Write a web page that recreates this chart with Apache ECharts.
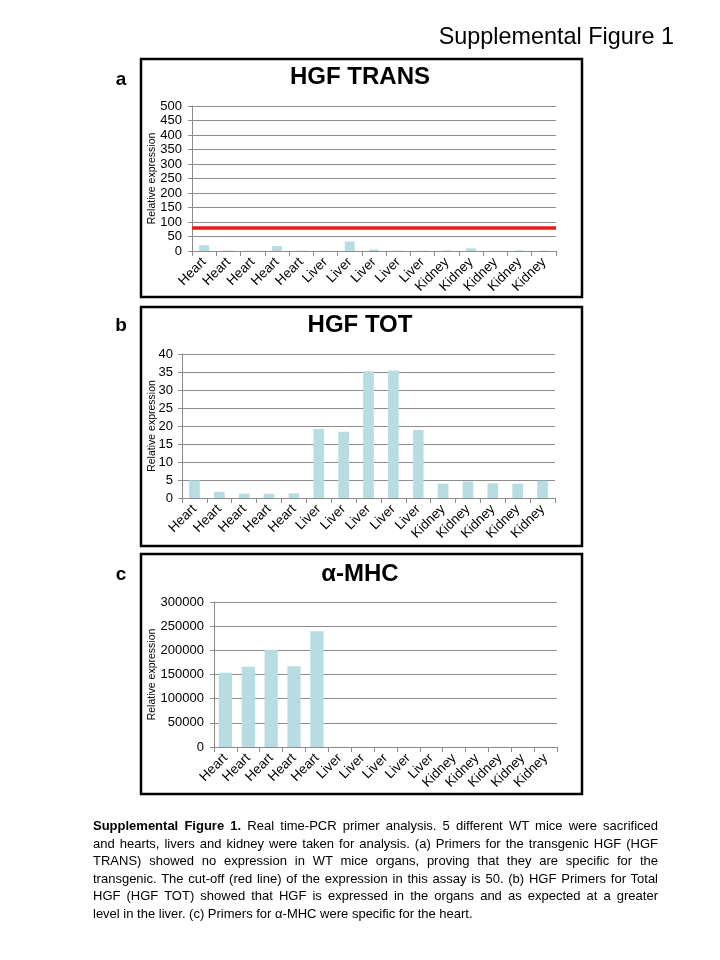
<!DOCTYPE html>
<html>
<head>
<meta charset="utf-8">
<script src="https://cdn.jsdelivr.net/npm/echarts@6/dist/echarts.min.js"></script>
<style>
  html, body { margin: 0; padding: 0; background: #fff; }
  #chart { position: absolute; left: 0; top: 0; width: 720px; height: 960px; }
  #caption { position: absolute; left: 93px; top: 817px; width: 565px;
    font-family: "Liberation Sans", Arial, sans-serif; font-size: 13px; line-height: 17.5px; color: #000; }
  #caption .ln { text-align: justify; text-align-last: justify; }
  #caption .ln.last { text-align: left; text-align-last: left; }
</style>
</head>
<body>
<div id="chart"></div>
<div id="caption">
  <div class="ln"><b>Supplemental Figure 1.</b> Real time-PCR primer analysis. 5 different WT mice were sacrificed</div>
  <div class="ln">and hearts, livers and kidney were taken for analysis. (a) Primers for the transgenic HGF (HGF</div>
  <div class="ln">TRANS) showed no expression in WT mice organs, proving that they are specific for the</div>
  <div class="ln">transgenic. The cut-off (red line) of the expression in this assay is 50. (b) HGF Primers for Total</div>
  <div class="ln">HGF (HGF TOT) showed that HGF is expressed in the organs and as expected at a greater</div>
  <div class="ln last">level in the liver. (c) Primers for α-MHC were specific for the heart.</div>
</div>
<script>
// ---- data ----
var categories = ['Heart','Heart','Heart','Heart','Heart','Liver','Liver','Liver','Liver','Liver','Kidney','Kidney','Kidney','Kidney','Kidney'];
var hgfTransValues = [20, 2, 1, 17, 1.5, 0.5, 33, 5, 1.5, 1, 2, 9, 0.5, 2.5, 1];
var hgfTransCutoff = 80;
var hgfTotValues = [4.9, 1.7, 1.2, 1.2, 1.3, 19.2, 18.4, 35.2, 35.4, 18.9, 4.0, 4.6, 4.1, 4.0, 4.8];
var aMhcValues = [153800, 166200, 201400, 166900, 239300, 0, 0, 0, 0, 0, 0, 0, 0, 0, 0];
var panelTitles = ['HGF TRANS', 'HGF TOT', 'α-MHC'];
var panelLetters = ['a', 'b', 'c'];
var yAxisName = 'Relative expression';
var figureTitle = 'Supplemental Figure 1';

// ---- styles ----
var FONT = 'Liberation Sans';
var GRAY = '#8c8c8c';
var BAR = '#b7dde2';

var chart = echarts.init(document.getElementById('chart'), null, {renderer: 'canvas'});

var grids = [
  {left: 192, right: 164, top: 106, bottom: 709},
  {left: 182, right: 165, top: 354, bottom: 462},
  {left: 214, right: 163, top: 602, bottom: 213}
];
var yCfg = [
  {max: 500, interval: 50, nameGap: 34, margin: 10},
  {max: 40, interval: 5, nameGap: 24, margin: 9},
  {max: 300000, interval: 50000, nameGap: 56, margin: 10}
];

function xAxis(i) {
  return {
    type: 'category', gridIndex: i, data: categories,
    axisLine: {lineStyle: {color: GRAY, width: 1}},
    axisTick: {show: true, length: 5, lineStyle: {color: GRAY}},
    axisLabel: {rotate: 45, interval: 0, fontSize: 13.5, color: '#000', fontFamily: FONT, margin: 9}
  };
}
function yAxis(i) {
  var c = yCfg[i];
  return {
    type: 'value', gridIndex: i, min: 0, max: c.max, interval: c.interval,
    name: yAxisName, nameLocation: 'middle', nameGap: c.nameGap, nameMoveOverlap: false,
    nameTextStyle: {fontSize: 10.5, color: '#000', fontFamily: FONT},
    axisLine: {show: true, lineStyle: {color: GRAY}},
    axisTick: {show: true, length: 4, lineStyle: {color: GRAY}},
    splitLine: {show: true, lineStyle: {color: GRAY, width: 1}},
    axisLabel: {fontSize: 13, color: '#000', fontFamily: FONT, margin: c.margin,
      formatter: function (v) { return String(v); }}
  };
}

var frames = [
  {x: 141, y: 59, w: 441, h: 238},
  {x: 141, y: 307, w: 441, h: 239},
  {x: 141, y: 554, w: 441, h: 240}
];
var letterY = [80, 326, 575];
var titleY = [77, 325, 574];

var graphics = [];
frames.forEach(function (f, i) {
  graphics.push({type: 'rect', silent: true, shape: {x: f.x, y: f.y, width: f.w, height: f.h},
    style: {fill: 'none', stroke: '#000', lineWidth: 2.5}, z: 100});
  graphics.push({type: 'text', silent: true, x: 121, y: letterY[i],
    style: {text: panelLetters[i], fill: '#000', font: 'bold 19px "' + FONT + '"', align: 'center', verticalAlign: 'middle'}});
  graphics.push({type: 'text', silent: true, x: 360, y: titleY[i],
    style: {text: panelTitles[i], fill: '#000', font: 'bold 24px "' + FONT + '"', align: 'center', verticalAlign: 'middle'}});
});
graphics.push({type: 'text', silent: true, x: 674, y: 38,
  style: {text: figureTitle, fill: '#000', font: '23.4px "' + FONT + '"', align: 'right', verticalAlign: 'middle'}});

var option = {
  animation: false,
  backgroundColor: '#fff',
  grid: grids,
  xAxis: [xAxis(0), xAxis(1), xAxis(2)],
  yAxis: [yAxis(0), yAxis(1), yAxis(2)],
  graphic: graphics,
  series: [
    {type: 'bar', xAxisIndex: 0, yAxisIndex: 0, data: hgfTransValues, barWidth: '41%',
      itemStyle: {color: BAR},
      markLine: {silent: true, symbol: ['none', 'none'], label: {show: false},
        lineStyle: {color: '#e8191b', width: 3.5, type: 'solid'},
        data: [{yAxis: hgfTransCutoff}]}},
    {type: 'bar', xAxisIndex: 1, yAxisIndex: 1, data: hgfTotValues, barWidth: '43%', itemStyle: {color: BAR}},
    {type: 'bar', xAxisIndex: 2, yAxisIndex: 2, data: aMhcValues, barWidth: '58%', itemStyle: {color: BAR}}
  ]
};
chart.setOption(option);
</script>
</body>
</html>
